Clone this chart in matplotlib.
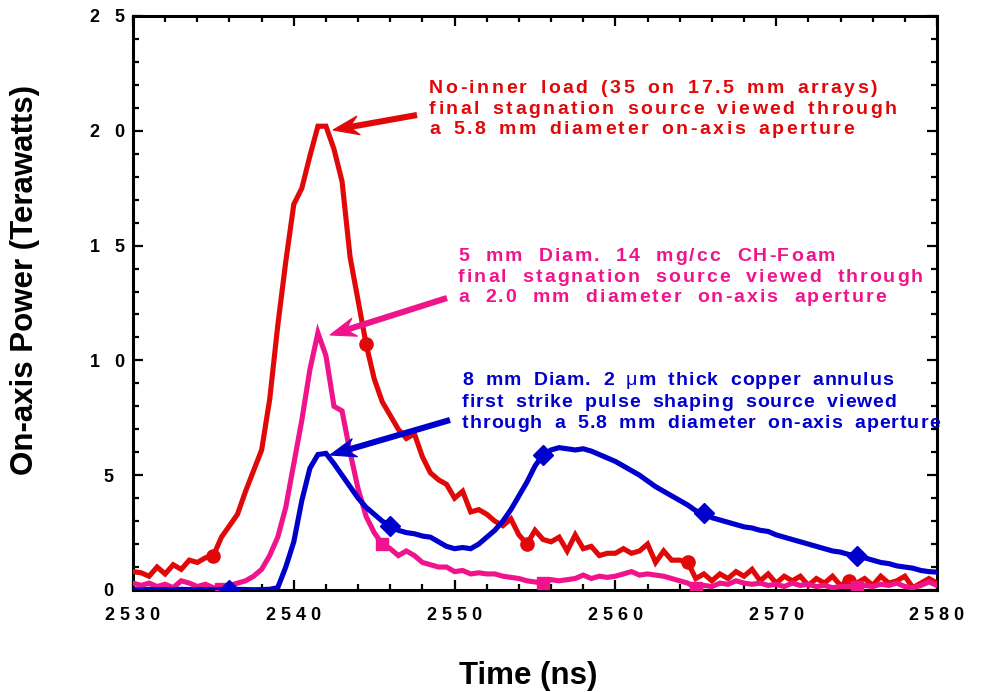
import numpy as np
import matplotlib
matplotlib.use('Agg')
import matplotlib.pyplot as plt
from matplotlib.ticker import MultipleLocator
from matplotlib.patches import Polygon
from matplotlib.lines import Line2D
from matplotlib.font_manager import FontProperties

plt.rcParams['font.family'] = ['Liberation Sans', 'DejaVu Sans']
plt.rcParams['font.weight'] = 'bold'

# ---------------- data ----------------
time_ns = np.arange(2530.0, 2580.01, 0.5)

red_power = [
    0.8, 0.75, 0.6, 1.0, 0.7, 1.1, 0.9, 1.3, 1.2, 1.4,
    1.5, 2.3, 2.8, 3.3, 4.3, 5.2, 6.1, 8.3, 11.5, 14.3,
    16.8, 17.5, 18.9, 20.2, 20.2, 19.2, 17.8, 14.5, 12.6, 10.7,
    9.2, 8.2, 7.6, 7.0, 6.6, 6.8, 5.8, 5.1, 4.8, 4.6,
    4.0, 4.3, 3.4, 3.5, 3.3, 3.0, 2.8, 3.1, 2.4, 2.0,
    2.6, 2.2, 2.1, 2.3, 1.7, 2.4, 1.8, 1.9, 1.5, 1.6,
    1.6, 1.8, 1.6, 1.7, 2.0, 1.2, 1.7, 1.3, 1.3, 1.2,
    0.5, 0.7, 0.4, 0.7, 0.5, 0.8, 0.6, 0.9, 0.4, 0.7,
    0.3, 0.6, 0.4, 0.6, 0.2, 0.5, 0.3, 0.6, 0.2, 0.4,
    0.3, 0.5, 0.2, 0.6, 0.3, 0.4, 0.6, 0.1, 0.3, 0.5,
    0.3,
]

pink_power = [
    0.3, 0.2, 0.3, 0.15, 0.25, 0.1, 0.4, 0.3, 0.15, 0.25,
    0.1, 0.05, 0.2, 0.3, 0.4, 0.6, 0.9, 1.5, 2.3, 3.6,
    5.5, 7.4, 9.6, 11.2, 10.2, 8.0, 7.8, 6.0, 4.4, 3.2,
    2.5, 2.0, 1.8, 1.5, 1.7, 1.5, 1.2, 1.1, 1.0, 1.0,
    0.8, 0.85, 0.7, 0.75, 0.7, 0.7, 0.6, 0.55, 0.5, 0.4,
    0.35, 0.3, 0.45, 0.4, 0.45, 0.5, 0.65, 0.5, 0.6, 0.55,
    0.6, 0.7, 0.8, 0.65, 0.7, 0.65, 0.6, 0.5, 0.4, 0.3,
    0.1, 0.2, 0.15, 0.3, 0.25, 0.4, 0.3, 0.25, 0.3, 0.2,
    0.25, 0.15, 0.3, 0.2, 0.25, 0.15, 0.2, 0.1, 0.15, 0.15,
    0.15, 0.2, 0.15, 0.25, 0.2, 0.3, 0.15, 0.1, 0.2, 0.35,
    0.2,
]

blue_power = [
    0.02, 0.0, 0.03, 0.01, 0.02, 0.0, 0.03, 0.02, 0.01, 0.02,
    0.0, 0.02, 0.01, 0.03, 0.02, 0.01, 0.02, 0.03, 0.1, 1.0,
    2.1, 3.9, 5.3, 5.9, 5.95, 5.5, 5.0, 4.5, 4.0, 3.6,
    3.3, 3.0, 2.8, 2.6, 2.5, 2.45, 2.35, 2.3, 2.1, 1.9,
    1.8, 1.85, 1.8, 2.0, 2.3, 2.6, 3.0, 3.5, 4.1, 4.7,
    5.4, 5.9, 6.1, 6.2, 6.15, 6.1, 6.15, 6.05, 5.9, 5.75,
    5.6, 5.4, 5.2, 5.0, 4.75, 4.5, 4.3, 4.1, 3.9, 3.7,
    3.45, 3.35, 3.15, 3.05, 2.95, 2.85, 2.75, 2.7, 2.6, 2.55,
    2.4, 2.3, 2.2, 2.1, 2.0, 1.9, 1.8, 1.7, 1.65, 1.55,
    1.5, 1.4, 1.3, 1.2, 1.15, 1.05, 1.0, 0.95, 0.85, 0.8,
    0.78,
]

red_marker_times = [2535.0, 2544.5, 2554.5, 2564.5, 2574.5]
pink_marker_times = [2535.5, 2545.5, 2555.5, 2565.0, 2575.0]
blue_marker_times = [2536.0, 2546.0, 2555.5, 2565.5, 2575.0]

x_ticks = [2530, 2540, 2550, 2560, 2570, 2580]
y_ticks = [0, 5, 10, 15, 20, 25]

red_note = ["No-inner load (35 on 17.5 mm arrays)",
            "final stagnation source viewed through",
            "a 5.8 mm diameter on-axis aperture"]
pink_note = ["5 mm Diam. 14 mg/cc CH-Foam",
             "final stagnation source viewed through",
             "a 2.0 mm diameter on-axis aperture"]
blue_note = ["8 mm Diam. 2 \u03bcm thick copper annulus",
             "first strike pulse shaping source viewed",
             "through a 5.8 mm diameter on-axis aperture"]

RED = '#e00808'
PINK = '#f0148c'
BLUE = '#0000cc'

# ---------------- figure ----------------
W, H = 1000, 692
fig = plt.figure(figsize=(W / 100, H / 100), dpi=100)
ax = fig.add_axes([133 / W, 1 - 590 / H, (937 - 133) / W, (590 - 16) / H])

t = np.asarray(time_ns)


def idx(times):
    return [int(np.argmin(np.abs(t - m))) for m in times]


LW = 3.7
ax.plot(t, red_power, color=RED, lw=LW, marker='o', ms=9.5,
        markevery=idx(red_marker_times), solid_joinstyle='miter', zorder=3)
ax.plot(t, pink_power, color=PINK, lw=LW, marker='s', ms=8,
        markevery=idx(pink_marker_times), solid_joinstyle='miter', zorder=4)
ax.plot(t, blue_power, color=BLUE, lw=LW, marker='D', ms=10,
        markevery=idx(blue_marker_times), solid_joinstyle='miter', zorder=5)

ax.set_xlim(2530, 2580)
ax.set_ylim(0, 25)

ax.set_xticks(x_ticks)
ax.set_xticklabels([' '.join(str(v)) for v in x_ticks])
ax.set_yticks(y_ticks)
ax.set_yticklabels(['   '.join(str(v)) for v in y_ticks])
ax.xaxis.set_minor_locator(MultipleLocator(2))
ax.yaxis.set_minor_locator(MultipleLocator(1))

for s in ax.spines.values():
    s.set_linewidth(2.2)
ax.tick_params(which='both', direction='in', top=True, right=True,
               width=1.6, colors='black')
ax.tick_params(which='major', length=7.5)
ax.tick_params(which='minor', length=4)
ax.tick_params(axis='x', which='major', pad=12, labelsize=13)
ax.tick_params(axis='y', which='major', pad=18, labelsize=13)
for lab in ax.get_yticklabels():
    lab.set_horizontalalignment('center')

ax.set_xlabel('Time (ns)', fontsize=22.5, fontweight='bold')
ax.xaxis.set_label_coords((528 - 133) / 804, (590 - 676) / 574)
ax.xaxis.label.set_va('center')
ax.set_ylabel('On-axis Power (Terawatts)', fontsize=22.5, fontweight='bold')
ax.yaxis.set_label_coords((25 - 133) / 804, (590 - 280) / 574)
ax.yaxis.label.set_va('center')

# ---------------- annotations (letter-spaced text) ----------------
renderer = fig.canvas.get_renderer()
NOTE_SIZE = 14


def char_width(c, prop):
    wa, _, _ = renderer.get_text_width_height_descent('aa', prop, ismath=False)
    wc, _, _ = renderer.get_text_width_height_descent('a' + c + 'a', prop, ismath=False)
    return wc - wa


def note(lines, left, baselines, color, track, word):
    prop_b = FontProperties(family=['Liberation Sans', 'DejaVu Sans'],
                            weight='bold', size=NOTE_SIZE)
    prop_n = FontProperties(family=['Liberation Sans', 'DejaVu Sans'],
                            weight='normal', size=NOTE_SIZE)
    for line, yb in zip(lines, baselines):
        x = left
        for c in line:
            prop = prop_n if c == '\u03bc' else prop_b
            if c != ' ':
                fig.text(x / W, 1 - yb / H, c, color=color, fontproperties=prop,
                         ha='left', va='baseline')
            x += char_width(c, prop) + track + (word if c == ' ' else 0)


note(red_note, 429, [93, 114, 134], RED, 2.5, 3.0)
note(pink_note, 458, [261, 282, 302], PINK, 2.0, 7.0)
note(blue_note, 462, [385, 407, 428], BLUE, 1.0, 5.0)


def arrow(tail, tip, color, L=26, w=9.5, notch=9, lw=4.4):
    tail = np.array([tail[0], H - tail[1]], float)
    tip = np.array([tip[0], H - tip[1]], float)
    u = tip - tail
    u /= np.hypot(*u)
    n = np.array([-u[1], u[0]])
    back = tip - (L - notch) * u
    pts = [tip, tip - L * u + w * n, back, tip - L * u - w * n]
    pts = [(p[0] / W, p[1] / H) for p in pts]
    fig.add_artist(Polygon(pts, closed=True, transform=fig.transFigure,
                           facecolor=color, edgecolor=color, lw=0.8, zorder=7))
    fig.add_artist(Line2D([tail[0] / W, back[0] / W], [tail[1] / H, back[1] / H],
                          transform=fig.transFigure, color=color, lw=lw,
                          solid_capstyle='butt', zorder=7))


arrow((417, 115), (333, 130), RED)
arrow((447, 298), (330, 335), PINK)
arrow((450, 420), (330, 455), BLUE)

fig.savefig('out.png', dpi=100)
